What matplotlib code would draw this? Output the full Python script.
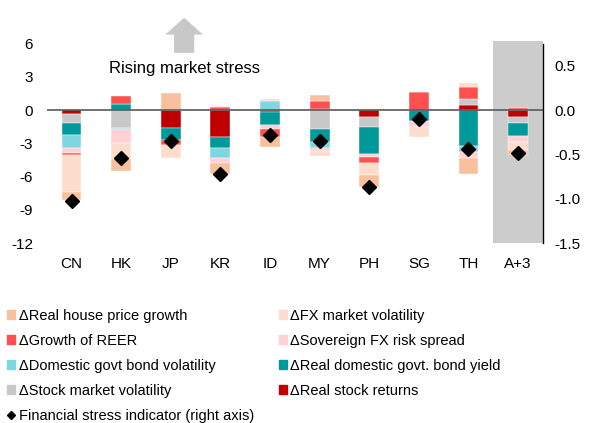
import numpy as np
import matplotlib
matplotlib.use("Agg")
import matplotlib.pyplot as plt
from matplotlib.patches import FancyArrow
from matplotlib.lines import Line2D
from matplotlib.patches import Patch

plt.rcParams['font.family'] = ['Liberation Sans', 'DejaVu Sans']
plt.rcParams['axes.unicode_minus'] = False

countries = ["CN", "HK", "JP", "KR", "ID", "MY", "PH", "SG", "TH", "A+3"]

# contributions (left axis), stacked from zero outward in this order
stock_ret  = [-0.40, 0.00, -1.65, -2.40, -0.15, 0.10, -0.60, 0.00, 0.45, -0.60]
stock_vol  = [-0.80, -1.60, 0.00, 0.00, 0.00, -1.75, -0.90, 0.00, 0.55, -0.60]
bond_yield = [-1.05, 0.55, -1.05, -1.05, -1.20, -1.10, -2.45, -0.95, -3.25, -1.10]
bond_vol   = [-1.15, -0.15, 0.00, -0.85, 0.80, -0.55, 0.00, 0.00, -0.50, 0.00]
sov_spread = [-0.45, -1.20, 0.00, -0.45, -0.35, -0.30, -0.25, -0.55, -0.55, -0.55]
reer       = [-0.25, 0.70, -0.45, 0.25, -0.70, 0.75, -0.55, 1.60, 1.05, 0.20]
fx_vol     = [-3.30, -1.50, -1.15, 0.15, 0.20, -0.45, -1.10, -0.90, 0.35, -0.80]
house      = [-0.75, -1.05, 1.50, -1.00, -0.90, 0.50, -1.05, 0.00, -1.50, -0.45]
# financial stress indicator (right axis)
fsi = [-1.03, -0.54, -0.35, -0.72, -0.28, -0.35, -0.87, -0.10, -0.435, -0.48]

series = [
    (stock_ret,  "#C00000", "\u0394Real stock returns"),
    (stock_vol,  "#C8C8C8", "\u0394Stock market volatility"),
    (bond_yield, "#009999", "\u0394Real domestic govt. bond yield"),
    (bond_vol,   "#7DD6E0", "\u0394Domestic govt bond volatility"),
    (sov_spread, "#FFD0D4", "\u0394Sovereign FX risk spread"),
    (reer,       "#FF5050", "\u0394Growth of REER"),
    (fx_vol,     "#FCDCCB", "\u0394FX market volatility"),
    (house,      "#F8C09C", "\u0394Real house price growth"),
]

fig = plt.figure(figsize=(5.92, 4.23), dpi=100)
ax = fig.add_axes([0.079, 0.4255, 0.838, 0.4715])
x = np.arange(len(countries))

ax.axvspan(8.5, 9.5, ymin=0, ymax=1.015, color="#CCCCCC", zorder=0, lw=0, clip_on=False)

pos = np.zeros(len(countries))
neg = np.zeros(len(countries))
for vals, col, lab in series:
    v = np.array(vals)
    bottom = np.where(v >= 0, pos, neg)
    ax.bar(x, v, 0.4, bottom=bottom, color=col, edgecolor="white", linewidth=0.3, zorder=2)
    pos = pos + np.where(v > 0, v, 0)
    neg = neg + np.where(v < 0, v, 0)

ax.axhline(0, color="#595959", lw=1.2, zorder=3)
ax.set_xlim(-0.5, 9.5)
ax.set_ylim(-12, 6)
ax.set_yticks([6, 3, 0, -3, -6, -9, -12])
ax.set_xticks(x)
ax.set_xticklabels(countries)
ax.tick_params(axis="y", length=0, labelsize=11, pad=10)
ax.tick_params(axis="x", length=0, labelsize=11, pad=10)
for s in ["top", "left", "bottom", "right"]:
    ax.spines[s].set_visible(False)

ax2 = ax.twinx()
ax2.plot(x, fsi, "D", color="black", markersize=7, zorder=5)
ax2.set_ylim(-1.5, 0.75)
ax2.set_yticks([0.5, 0.0, -0.5, -1.0, -1.5])
ax2.set_yticklabels(["0.5", "0.0", "-0.5", "-1.0", "-1.5"])
ax2.tick_params(length=0, labelsize=11, pad=8)
for s in ["top", "left", "bottom"]:
    ax2.spines[s].set_visible(False)
ax2.spines["right"].set_color("black")
ax2.spines["right"].set_linewidth(1)

# rising stress arrow
arr = FancyArrow(0.311, 0.875, 0, 0.043, width=0.034, head_width=0.064, head_length=0.040,
                 length_includes_head=False, transform=fig.transFigure, color="#C8C8C8", lw=0)
fig.patches.append(arr)
fig.text(0.311, 1 - 69 / 423, "Rising market stress", ha="center", va="center", fontsize=12)

# legend
handles = []
for i in [7, 5, 3, 1]:
    handles.append(Patch(color=series[i][1], label=series[i][2]))
handles.append(Line2D([], [], marker="D", color="black", ls="none", markersize=4,
                      label="Financial stress indicator (right axis)"))
for i in [6, 4, 2, 0]:
    handles.append(Patch(color=series[i][1], label=series[i][2]))
fig.legend(handles=handles, ncol=2, loc="upper left", bbox_to_anchor=(0.012, 0.27),
           frameon=False, fontsize=10.5, handlelength=0.55, handleheight=0.55,
           handletextpad=0.25, columnspacing=1.7, labelspacing=0.76, borderaxespad=0,
           borderpad=0)

fig.savefig("out.png", dpi=100)
